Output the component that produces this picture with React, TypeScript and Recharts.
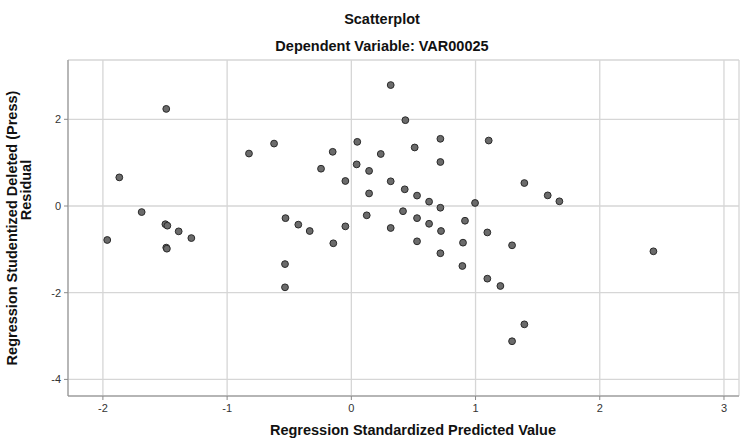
import { ScatterChart, Scatter, XAxis, YAxis, CartesianGrid } from "recharts";

// predicted value (x) and studentized deleted residual (y)
const predicted = [
  -1.49, -1.868, -0.824, -0.622, -1.688, -0.53, -1.497, -1.481, 0.317, 0.435,
  0.048, 0.717, 1.106, -0.15, 0.51, 0.237, -0.244, 0.043, 0.143, 0.717,
  -0.048, 0.317, 0.143, 0.43, 0.529, 0.626, 0.717, 0.996, -0.427, 0.124,
  0.416, 0.529, 0.626, 0.915, 1.393, 1.581, 1.675, -1.965, -1.39, -1.288,
  -1.49, -1.485, -0.534, -0.534, -0.335, -0.048, -0.145, 0.317, 0.529, 0.722,
  0.899, 0.717, 0.894, 1.095, 1.095, 1.2, 1.294, 2.432, 1.393, 1.294,
];
const residual = [
  2.24, 0.66, 1.21, 1.44, -0.14, -0.28, -0.42, -0.454, 2.79, 1.98,
  1.48, 1.55, 1.51, 1.25, 1.35, 1.2, 0.86, 0.96, 0.81, 1.015,
  0.577, 0.57, 0.29, 0.385, 0.24, 0.1, -0.04, 0.07, -0.43, -0.215,
  -0.12, -0.28, -0.41, -0.34, 0.53, 0.245, 0.108, -0.784, -0.585, -0.74,
  -0.96, -0.985, -1.34, -1.876, -0.577, -0.47, -0.86, -0.507, -0.815, -0.577,
  -0.846, -1.09, -1.384, -0.61, -1.676, -1.845, -0.907, -1.045, -2.73, -3.12,
];
const xTicks = [-2, -1, 0, 1, 2, 3];
const yTicks = [-4, -2, 0, 2];

const points = predicted.map((x, i) => ({ x, y: residual[i] }));

const font = '"Liberation Sans", Arial, sans-serif';
const axisStroke = "#8a8a8a";
const gridStroke = "#d6d6d6";

const Dot = (props: any) => {
  const { cx, cy } = props;
  if (cx == null || cy == null) return null;
  return <circle cx={cx} cy={cy} r={3.4} fill="#6b6b6b" stroke="#2a2a2a" strokeWidth={1} />;
};

export default function App() {
  return (
    <div style={{ position: "absolute", left: 0, top: 0, width: 744, height: 441, background: "#fff", fontFamily: font }}>
      <ScatterChart width={744} height={441} margin={{ top: 60, right: 5, bottom: 15, left: 0 }}>
        <CartesianGrid stroke={gridStroke} strokeWidth={1.3} vertical horizontal />
        <XAxis
          type="number"
          dataKey="x"
          domain={[-2.281, 3.121]}
          ticks={xTicks}
          allowDataOverflow
          height={30}
          tickSize={4}
          tickMargin={4}
          stroke={axisStroke}
          tick={{ fill: "#333", fontSize: 11, fontFamily: font }}
        />
        <YAxis
          type="number"
          dataKey="y"
          domain={[-4.383, 3.368]}
          ticks={yTicks}
          allowDataOverflow
          width={68}
          tickSize={4}
          tickMargin={3}
          stroke={axisStroke}
          tick={{ fill: "#333", fontSize: 11, fontFamily: font }}
        />
        <Scatter data={points} shape={<Dot />} isAnimationActive={false} />
      </ScatterChart>
      <svg width={744} height={441} style={{ position: "absolute", left: 0, top: 0, pointerEvents: "none" }}>
        <g fontFamily={font} fontWeight="bold" fontSize={14.5} fill="#111" textAnchor="middle">
          <text x={382} y={24}>Scatterplot</text>
          <text x={382} y={51}>Dependent Variable: VAR00025</text>
          <text x={413} y={435}>Regression Standardized Predicted Value</text>
          <text transform="translate(17,228) rotate(-90)">Regression Studentized Deleted (Press)</text>
          <text transform="translate(31,190) rotate(-90)">Residual</text>
        </g>
      </svg>
    </div>
  );
}
